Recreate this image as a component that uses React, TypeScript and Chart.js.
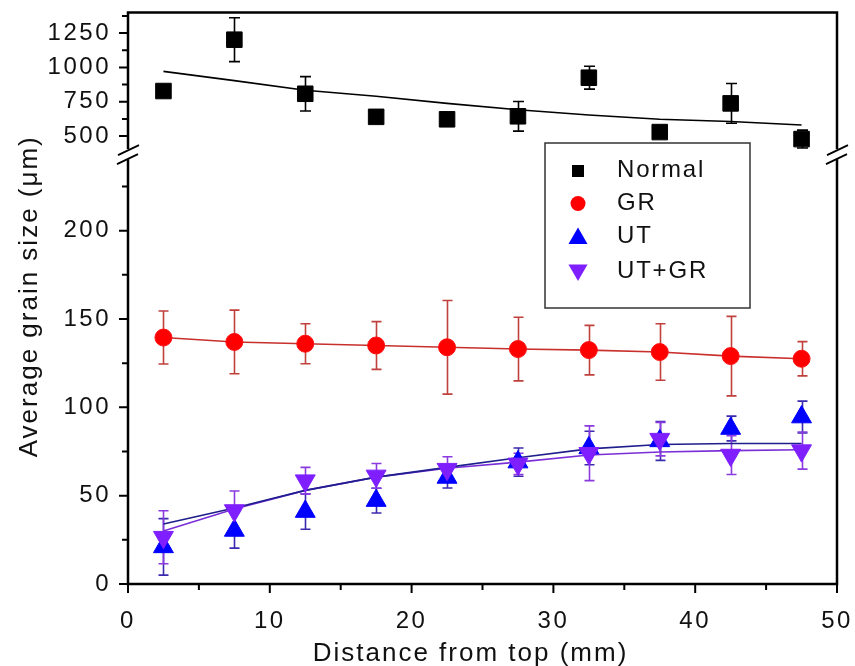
import { useEffect, useRef } from 'react';
import { Chart, registerables } from 'chart.js';

Chart.register(...registerables);

// ---------- data ----------
const positions = [2.5, 7.5, 12.5, 17.5, 22.5, 27.5, 32.5, 37.5, 42.5, 47.5];

const normalValues = [828, 1202, 808, 640, 622, 644, 925, 529, 738, 478];
const normalErrors = [0, 160, 125, 0, 0, 108, 83, 0, 145, 65];
const normalFit = [971, 904, 834, 790, 738, 692, 653, 623, 606, 581];

const grValues = [139.5, 137, 136, 135, 134, 133, 132.4, 131.3, 129, 127.5];
const grErrors = [15, 18, 11.3, 13.5, 26.5, 18, 14, 16, 22.5, 9.7];

const utValues = [21, 30.3, 41, 47.2, 60.3, 69, 77, 81, 88, 94.5];
const utErrors = [16, 10, 10, 7, 6, 8, 9.5, 11, 7, 9];
const utFit = [34, 43, 53, 60.5, 66, 71.5, 76.5, 79, 79.5, 79.5];

const utgrValues = [26.5, 41.6, 58.5, 61.2, 65, 68, 74, 82, 73, 75.5];
const utgrErrors = [15, 11, 7.5, 7, 7, 6, 15.5, 9.5, 11, 10.5];
const utgrFit = [30, 42.5, 53, 60.5, 65.5, 69, 73, 74.7, 75.5, 76];

const seriesLabels = ['Normal', 'GR', 'UT', 'UT+GR'];

const xMajorTicks = [0, 10, 20, 30, 40, 50];
const xMinorTicks = [5, 15, 25, 35, 45];
const lowerMajorTicks = [0, 50, 100, 150, 200];
const lowerMinorTicks = [25, 75, 125, 175, 225];
const upperMajorTicks = [500, 750, 1000, 1250];
const upperMinorTicks = [625, 875, 1125, 1375];

const xTitle = 'Distance from top (mm)';
const yTitle = 'Average grain size (\u03bcm)';

// ---------- styling ----------
const FONT = 'Arial, "Liberation Sans", Helvetica, sans-serif';
const TEXT = '#111';

const pts = (vals: number[]) => positions.map((x, i) => ({ x, y: vals[i] }));

function drawMarker(ctx: CanvasRenderingContext2D, style: string, x: number, y: number, r: number, color: string, rot = 0) {
  ctx.save();
  ctx.fillStyle = color;
  ctx.beginPath();
  if (style === 'rect') {
    ctx.rect(x - r, y - r, 2 * r, 2 * r);
  } else if (style === 'circle') {
    ctx.arc(x, y, r, 0, Math.PI * 2);
  } else {
    let a = (rot * Math.PI) / 180;
    ctx.moveTo(x + Math.sin(a) * r, y - Math.cos(a) * r);
    a += (2 * Math.PI) / 3;
    ctx.lineTo(x + Math.sin(a) * r, y - Math.cos(a) * r);
    a += (2 * Math.PI) / 3;
    ctx.lineTo(x + Math.sin(a) * r, y - Math.cos(a) * r);
    ctx.closePath();
  }
  ctx.fill();
  ctx.restore();
}

const decorPlugin = {
  id: 'decor',
  beforeUpdate(chart: any) {
    chart.ctx.letterSpacing = '2.5px';
  },
  beforeDraw(chart: any) {
    chart.ctx.letterSpacing = '2.5px';
  },
  beforeDatasetsDraw(chart: any) {
    const ctx: CanvasRenderingContext2D = chart.ctx;
    const xs = chart.scales.x;
    chart.data.datasets.forEach((ds: any) => {
      if (!ds.errorBars) return;
      const ys = chart.scales[ds.yAxisID];
      ctx.save();
      ctx.strokeStyle = ds.errorColor;
      ctx.lineWidth = 1.6;
      const cap = ds.capHalf || 5;
      ds.data.forEach((p: any, j: number) => {
        const e = ds.errorBars[j];
        if (!e) return;
        const px = Math.round(xs.getPixelForValue(p.x)) + 0.5;
        const top = ys.getPixelForValue(Math.min(p.y + e, ys.max));
        const bot = ys.getPixelForValue(Math.max(p.y - e, ys.min));
        ctx.beginPath();
        ctx.moveTo(px, top);
        ctx.lineTo(px, bot);
        ctx.moveTo(px - cap, top);
        ctx.lineTo(px + cap, top);
        ctx.moveTo(px - cap, bot);
        ctx.lineTo(px + cap, bot);
        ctx.stroke();
      });
      ctx.restore();
    });
  },
  afterDraw(chart: any) {
    const ctx: CanvasRenderingContext2D = chart.ctx;
    const { left, right, top, bottom } = chart.chartArea;
    const xs = chart.scales.x;
    const yl = chart.scales.y;
    const yu = chart.scales.y2;
    ctx.save();
    // frame
    ctx.strokeStyle = '#000';
    ctx.lineWidth = 2.5;
    ctx.strokeRect(left, top, right - left, bottom - top);

    // ticks
    ctx.lineWidth = 2;
    ctx.beginPath();
    const xt = (v: number, len: number) => {
      const p = xs.getPixelForValue(v);
      ctx.moveTo(p, bottom);
      ctx.lineTo(p, bottom + len);
    };
    xMajorTicks.forEach((v) => xt(v, 9));
    xMinorTicks.forEach((v) => xt(v, 6));
    const yt = (s: any, v: number, len: number) => {
      const p = s.getPixelForValue(v);
      ctx.moveTo(left, p);
      ctx.lineTo(left - len, p);
    };
    lowerMajorTicks.forEach((v) => yt(yl, v, 9));
    lowerMinorTicks.forEach((v) => yt(yl, v, 6));
    upperMajorTicks.forEach((v) => yt(yu, v, 9));
    upperMinorTicks.forEach((v) => yt(yu, v, 6));
    ctx.stroke();

    // axis breaks
    const by = yu.bottom + 3;
    [left, right].forEach((bx) => {
      ctx.fillStyle = '#fff';
      ctx.fillRect(bx - 3, by - 5, 6, 10);
      ctx.strokeStyle = '#000';
      ctx.lineWidth = 1.8;
      ctx.beginPath();
      ctx.moveTo(bx - 10, by + 1);
      ctx.lineTo(bx + 11, by - 9);
      ctx.moveTo(bx - 11, by + 10);
      ctx.lineTo(bx + 10, by);
      ctx.stroke();
    });

    // legend
    const lx = 545, ly = 143, lw = 205, lh = 165;
    ctx.fillStyle = '#fff';
    ctx.fillRect(lx, ly, lw, lh);
    ctx.strokeStyle = '#333';
    ctx.lineWidth = 1.5;
    ctx.strokeRect(lx, ly, lw, lh);
    ctx.font = `24px ${FONT}`;
    ctx.letterSpacing = '1.8px';
    ctx.fillStyle = TEXT;
    ctx.textBaseline = 'middle';
    ctx.textAlign = 'left';
    const rowY = [170, 203.5, 236.5, 271];
    seriesLabels.forEach((lab, i) => {
      const ds: any = chart.data.datasets[i];
      const cy = rowY[i];
      if (ds.pointStyle === 'rect') drawMarker(ctx, 'rect', 578, cy + 1, 6, ds.backgroundColor);
      else if (ds.pointStyle === 'circle') drawMarker(ctx, 'circle', 578, cy, 7.5, ds.backgroundColor);
      else drawMarker(ctx, 'tri', 578, cy + (ds.rotation ? -1 : 2), 11, ds.backgroundColor, ds.rotation || 0);
      ctx.fillStyle = TEXT;
      ctx.fillText(lab, 617, cy);
    });

    // axis titles
    ctx.letterSpacing = '2px';
    ctx.font = `26px ${FONT}`;
    ctx.fillStyle = TEXT;
    ctx.textAlign = 'center';
    ctx.textBaseline = 'alphabetic';
    ctx.fillText(xTitle, (left + right) / 2 - 12, 661);
    ctx.save();
    ctx.translate(37, (top + bottom) / 2 - 2);
    ctx.rotate(-Math.PI / 2);
    ctx.fillText(yTitle, 0, 0);
    ctx.restore();

    ctx.restore();
  },
};

const plainLabel = (v: any) => String(v);

export default function App() {
  const ref = useRef<HTMLCanvasElement>(null);

  useEffect(() => {
    const canvas = ref.current;
    if (!canvas) return;
    const tickFont = { family: FONT, size: 24 };
    const yTickFont = { family: FONT, size: 24, lineHeight: 0.4 };
    const chart = new Chart(canvas, {
      type: 'scatter',
      data: {
        datasets: [
          {
            label: seriesLabels[0], data: pts(normalValues), yAxisID: 'y2', showLine: false,
            pointStyle: 'rect', pointRadius: 11, backgroundColor: '#000', borderColor: '#000', borderWidth: 1,
            errorBars: normalErrors, errorColor: '#000', capHalf: 5.5, order: 0,
          } as any,
          {
            label: seriesLabels[1], data: pts(grValues), yAxisID: 'y', showLine: true,
            borderColor: '#c8302c', borderWidth: 1.6, backgroundColor: '#ff0000',
            pointStyle: 'circle', pointRadius: 8.5, pointBackgroundColor: '#ff0000', pointBorderColor: '#ff1010', pointBorderWidth: 1,
            errorBars: grErrors, errorColor: '#c0403c', capHalf: 5, order: 0,
          } as any,
          {
            label: seriesLabels[2], data: pts(utValues), yAxisID: 'y', showLine: false,
            pointStyle: 'triangle', pointRadius: 11.5, backgroundColor: '#0000ff', borderColor: '#0000ff', borderWidth: 1,
            errorBars: utErrors, errorColor: '#3a2ab0', capHalf: 5, order: 0,
          } as any,
          {
            label: seriesLabels[3], data: pts(utgrValues), yAxisID: 'y', showLine: false,
            pointStyle: 'triangle', rotation: 180, pointRadius: 11.5, backgroundColor: '#7f1fff', borderColor: '#7f1fff', borderWidth: 1,
            errorBars: utgrErrors, errorColor: '#8a3ae0', capHalf: 5, order: -1,
          } as any,
          {
            label: 'Normal fit', data: pts(normalFit), yAxisID: 'y2', showLine: true,
            pointRadius: 0, borderColor: '#000', borderWidth: 1.6, order: 2,
          } as any,
          {
            label: 'UT fit', data: pts(utFit), yAxisID: 'y', showLine: true,
            pointRadius: 0, borderColor: '#1e1e8c', borderWidth: 1.6, order: 2,
          } as any,
          {
            label: 'UT+GR fit', data: pts(utgrFit), yAxisID: 'y', showLine: true,
            pointRadius: 0, borderColor: '#7a2ed8', borderWidth: 1.6, order: 2,
          } as any,
        ],
      },
      options: {
        responsive: false,
        maintainAspectRatio: false,
        animation: false,
        devicePixelRatio: 1,
        layout: { padding: { left: 0, top: 7, right: 18, bottom: 0 } },
        plugins: { legend: { display: false }, tooltip: { enabled: false } },
        elements: { line: { tension: 0 } },
        scales: {
          x: {
            type: 'linear', min: 0, max: 50,
            grid: { display: false }, border: { display: false },
            ticks: { font: tickFont, color: TEXT, padding: 15, maxRotation: 0, autoSkip: false, callback: plainLabel },
            afterBuildTicks: (s: any) => { s.ticks = xMajorTicks.map((v) => ({ value: v })); },
            afterFit: (s: any) => { s.height = 82; s.paddingLeft = 0; s.paddingRight = 0; },
          },
          y: {
            type: 'linear', position: 'left', stack: 'left', stackWeight: 437, min: 0, max: 245,
            grid: { display: false }, border: { display: false },
            ticks: { font: yTickFont, color: TEXT, padding: 9, autoSkip: false, callback: plainLabel },
            afterBuildTicks: (s: any) => { s.ticks = lowerMajorTicks.map((v) => ({ value: v })); },
            afterFit: (s: any) => { s.width = 128; s.paddingTop = 0; s.paddingBottom = 0; },
          },
          y2: {
            type: 'linear', position: 'left', stack: 'left', stackWeight: 140, min: 390, max: 1400,
            grid: { display: false }, border: { display: false },
            ticks: { font: yTickFont, color: TEXT, padding: 9, autoSkip: false, callback: plainLabel },
            afterBuildTicks: (s: any) => { s.ticks = upperMajorTicks.map((v) => ({ value: v })); },
            afterFit: (s: any) => { s.width = 128; s.paddingTop = 0; s.paddingBottom = 0; },
          },
        },
      } as any,
      plugins: [decorPlugin],
    });
    return () => chart.destroy();
  }, []);

  return (
    <div style={{ position: 'fixed', left: 0, top: 0, width: 855, height: 666, background: '#fff' }}>
      <canvas ref={ref} width={855} height={666} style={{ display: 'block', width: 855, height: 666 }} />
    </div>
  );
}
